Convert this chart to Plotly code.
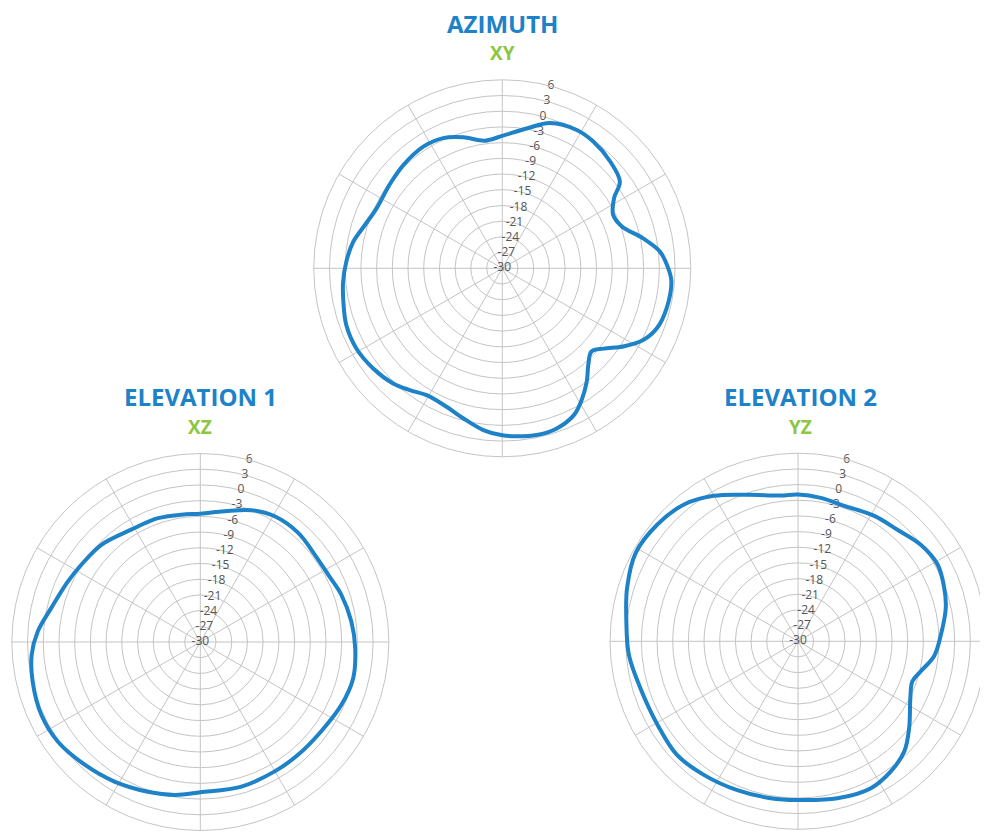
import plotly.graph_objects as go

# Angles in degrees, clockwise from north; values in dB
az_theta = [0, 9.9, 18.2, 28.3, 35.7, 45.3, 53.6, 57.9, 64.3, 70.7, 78, 84, 90, 94.5, 103.7, 111, 117,
            122.9, 128.4, 133, 138.3, 143.3, 149, 154, 161.2, 168.4, 175, 180, 186.7, 194.6, 201.9,
            210.8, 217.2, 223.5, 232.2, 241.2, 250, 258.2, 265.2, 272.5, 280.1, 287.5, 295.5, 306.6,
            316.2, 327, 335.6, 343.4, 352.3]
az_db = [-4.7, -2.9, -0.8, 0.0, -0.2, -1.0, -2.1, -4.8, -6.5, -5.8, -2.5, 0.3, 1.7, 2.4, 2.3, 1.7, 0.2,
         -2.5, -5.3, -6.7, -5.3, -3.0, -0.6, 1.2, 2.3, 2.5, 2.2, 1.9, 1.1, -0.4, -1.5,
         -1.8, -0.8, 0.3, 1.2, 1.8, 1.7, 1.0, 0.5, -0.2, -1.1, -2.5, -3.4, -3.2,
         -2.7, -2.3, -2.7, -3.9, -5.4]

el1_theta = [0, 10.5, 21.2, 30.6, 41.9, 52.6, 62.2, 71.4, 82.2, 92.2, 103.3, 114, 126.4, 139.1, 150.1,
             164.1, 180, 189.5, 199.3, 211.6, 223.3, 235.1, 245.4, 256.8, 265.7, 273.8, 282.9, 294.6,
             303, 314.5, 328.4, 341.1, 351.5]
el1_db = [-5.5, -4.6, -3.0, -2.1, -2.0, -2.5, -2.4, -1.6, -0.9, -0.4, 0.0, -0.5, -1.3, -1.5, -1.5,
          -1.3, -1.3, -0.4, 0.3, 1.3, 2.2, 3.2, 3.4, 2.9, 2.3, 1.1, -0.8, -2.2,
          -2.9, -3.5, -4.8, -5.0, -5.4]

el2_theta = [0, 9, 18.8, 31.3, 41.7, 51.8, 61.2, 70, 77.3, 87.3, 96.3, 103.7, 109.3, 116.8, 128, 136,
             144.5, 153.6, 165.9, 180, 189.9, 202.2, 215.2, 226.8, 239.4, 253.5, 265.5, 276.7, 287.4,
             298.6, 309.7, 320.2, 329.9, 340.9, 353.2]
el2_db = [-1.9, -2.2, -2.6, -1.9, -1.4, -0.1, 0.5, -0.2, -1.0, -2.6, -3.8, -5.8, -6.8, -5.9, -3.0, -0.7,
          0.6, 1.4, 1.0, 0.4, 0.5, 0.8, 1.3, 1.8, 1.3, 1.5, 2.5, 3.1, 4.3,
          5.4, 5.0, 4.1, 2.2, -0.3, -1.9]

radial_ticks = [-30, -27, -24, -21, -18, -15, -12, -9, -6, -3, 0, 3, 6]
tick_labels = [str(v) for v in radial_ticks]

titles = ["AZIMUTH", "ELEVATION 1", "ELEVATION 2"]
subtitles = ["XY", "XZ", "YZ"]

BLUE = "#1d82c7"
GREEN = "#8dc63f"
GRID = "#c4c4c4"
LABEL_THETA = 15  # direction along which the radial tick labels are written

W, H = 980, 824

fig = go.Figure()
series = [(az_theta, az_db), (el1_theta, el1_db), (el2_theta, el2_db)]
for i, (th, r) in enumerate(series):
    sp = "polar" if i == 0 else f"polar{i+1}"
    # radial tick labels, placed by the polar scale
    fig.add_trace(go.Scatterpolar(
        theta=[LABEL_THETA] * len(radial_ticks), r=radial_ticks, text=tick_labels, mode="text",
        textposition="middle center", textfont=dict(family="Open Sans", size=12, color="#555"),
        cliponaxis=False, subplot=sp, showlegend=False, hoverinfo="skip"))
    fig.add_trace(go.Scatterpolar(
        theta=th + [th[0] + 360], r=r + [r[0]], mode="lines",
        line=dict(color=BLUE, width=4, shape="spline", smoothing=1),
        subplot=sp, showlegend=False, hoverinfo="skip"))

domains = [
    dict(x=[0.3120, 0.6967], y=[0.4553, 0.9129]),
    dict(x=[0.0039, 0.3886], y=[0.0018, 0.4593]),
    dict(x=[0.6143, 0.9980], y=[0.0033, 0.4596]),
]

def polar_layout(dom):
    return dict(
        domain=dom,
        bgcolor="white",
        radialaxis=dict(range=[-30, 6], tickvals=radial_ticks, showticklabels=False,
                        showline=False, ticks="", gridcolor=GRID, gridwidth=1),
        angularaxis=dict(rotation=90, direction="clockwise", dtick=30, showticklabels=False, ticks="",
                         gridcolor=GRID, gridwidth=1, linecolor=GRID, linewidth=1, showline=True),
    )

fig.update_layout(
    width=W, height=H, margin=dict(l=0, r=0, t=0, b=0),
    paper_bgcolor="white", plot_bgcolor="white",
    polar=polar_layout(domains[0]),
    polar2=polar_layout(domains[1]),
    polar3=polar_layout(domains[2]),
)

title_pos = [(494, 15, 45), (192, 388, 418.5), (792, 388, 418.5)]
for (xc, yt, ys), t, s in zip(title_pos, titles, subtitles):
    fig.add_annotation(x=xc / W, y=1 - yt / H, xref="paper", yref="paper", text=f"<b>{t}</b>",
                       showarrow=False, xanchor="center", yanchor="middle", borderpad=0,
                       font=dict(family="Open Sans", size=24, color=BLUE))
    fig.add_annotation(x=xc / W, y=1 - ys / H, xref="paper", yref="paper", text=f"<b>{s}</b>",
                       showarrow=False, xanchor="center", yanchor="middle", borderpad=0,
                       font=dict(family="Open Sans", size=19, color=GREEN))

fig.write_html("out.html")
